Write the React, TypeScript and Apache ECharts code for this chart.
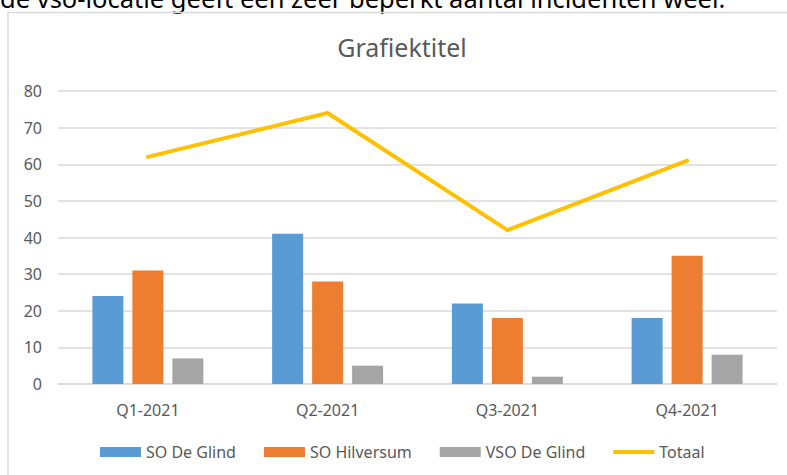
import React, { useEffect, useRef } from "react";
import * as echarts from "echarts";

const categories = ["Q1-2021", "Q2-2021", "Q3-2021", "Q4-2021"];
const soDeGlind = [24, 41, 22, 18];
const soHilversum = [31, 28, 18, 35];
const vsoDeGlind = [7, 5, 2, 8];
const totaal = [62, 74, 42, 61];
const seriesNames = ["SO De Glind", "SO Hilversum", "VSO De Glind", "Totaal"];
const chartTitle = "Grafiektitel";
const topText = "de vso-locatie geeft een zeer beperkt aantal incidenten weer.";

const FONT = "Noto Sans";
const GREY = "#595959";

export default function App() {
  const ref = useRef<HTMLDivElement>(null);
  useEffect(() => {
    if (!ref.current) return;
    const chart = echarts.init(ref.current, undefined, { renderer: "svg" });
    chart.setOption({
      animation: false,
      textStyle: { fontFamily: FONT },
      graphic: [
        {
          type: "text",
          x: 0,
          y: -2,
          style: {
            text: topText,
            fontFamily: FONT,
            fontSize: 25.5,
            fill: "#000000",
            verticalAlign: "middle",
            align: "left",
          },
        },
        {
          type: "rect",
          shape: { x: 8, y: 12.5, width: 900, height: 600 },
          style: { fill: "none", stroke: "#d9d9d9", lineWidth: 1.5 },
        },
        {
          type: "text",
          x: 402,
          y: 47,
          style: {
            text: chartTitle,
            fontFamily: FONT,
            fontSize: 25,
            fill: GREY,
            align: "center",
            verticalAlign: "middle",
          },
        },
      ],
      legend: {
        left: 100,
        top: 444,
        padding: 0,
        itemWidth: 41,
        itemHeight: 10,
        itemGap: 28,
        textStyle: { color: GREY, fontSize: 16, fontFamily: FONT },
        data: [
          { name: seriesNames[0], icon: "rect" },
          { name: seriesNames[1], icon: "rect" },
          { name: seriesNames[2], icon: "rect" },
          { name: seriesNames[3], icon: "path://M0,0 H41 V4 H0 Z" },
        ],
      },
      grid: { left: 58, right: 10, top: 91, bottom: 91 },
      xAxis: {
        type: "category",
        data: categories,
        axisLine: { lineStyle: { color: "#d9d9d9", width: 1.5 } },
        axisTick: { show: false },
        axisLabel: { color: GREY, fontSize: 16, margin: 18, fontFamily: FONT },
      },
      yAxis: {
        type: "value",
        min: 0,
        max: 80,
        interval: 10,
        axisLine: { show: false },
        axisTick: { show: false },
        splitLine: { lineStyle: { color: "#d9d9d9", width: 1.5 } },
        axisLabel: { color: GREY, fontSize: 16, margin: 16, fontFamily: FONT },
      },
      series: [
        {
          name: seriesNames[0],
          type: "bar",
          data: soDeGlind,
          barWidth: 31,
          barGap: "29%",
          itemStyle: { color: "#5B9BD5" },
        },
        {
          name: seriesNames[1],
          type: "bar",
          data: soHilversum,
          barWidth: 31,
          barGap: "29%",
          itemStyle: { color: "#ED7D31" },
        },
        {
          name: seriesNames[2],
          type: "bar",
          data: vsoDeGlind,
          barWidth: 31,
          barGap: "29%",
          itemStyle: { color: "#A5A5A5" },
        },
        {
          name: seriesNames[3],
          type: "line",
          data: totaal,
          symbol: "none",
          lineStyle: { color: "#FFC000", width: 4, cap: "round", join: "round" },
          itemStyle: { color: "#FFC000" },
          z: 5,
        },
      ],
    });
    return () => chart.dispose();
  }, []);
  return (
    <div
      ref={ref}
      style={{ position: "fixed", left: 0, top: 0, width: 787, height: 475, background: "#ffffff" }}
    />
  );
}
